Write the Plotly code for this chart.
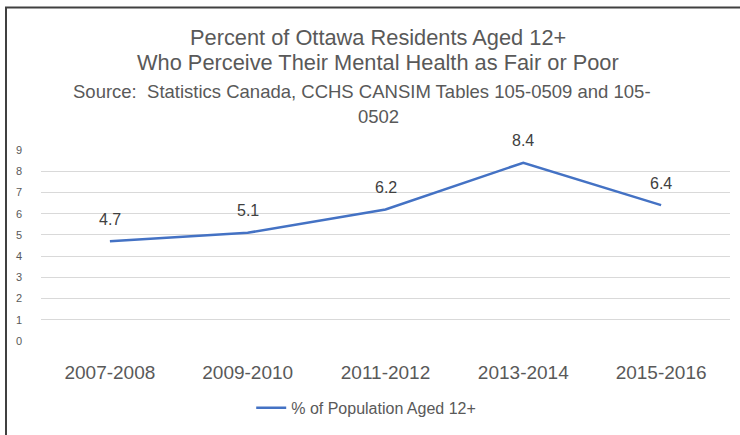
import plotly.graph_objects as go

categories = ["2007-2008", "2009-2010", "2011-2012", "2013-2014", "2015-2016"]
values = [4.7, 5.1, 6.2, 8.4, 6.4]
y_ticks = [0, 1, 2, 3, 4, 5, 6, 7, 8, 9]
series_name = "% of Population Aged 12+"

FONT = "Liberation Sans, Arial, sans-serif"
GRAY = "#595959"

fig = go.Figure()
fig.add_trace(go.Scatter(
    x=categories, y=values, mode="lines",
    line=dict(color="#4472C4", width=2.5),
    name=series_name, showlegend=True, cliponaxis=False,
))

# data labels, positioned via the axes' own scales
for c, v in zip(categories, values):
    fig.add_annotation(x=c, y=v, xref="x", yref="y", text=f"{v:.1f}",
                       showarrow=False, yshift=22, yanchor="middle",
                       font=dict(family=FONT, size=16, color="#404040"))

W, H = 740, 435
L, R, T, B = 41, 10, 150, 92

fig.update_layout(
    width=W, height=H,
    margin=dict(l=L, r=R, t=T, b=B),
    paper_bgcolor="white", plot_bgcolor="white",
    font=dict(family=FONT, color=GRAY),
    xaxis=dict(type="category", showgrid=False, zeroline=False, showline=False,
               ticks="", tickfont=dict(size=19, color=GRAY), range=[-0.5, 4.5],
               ticklabelstandoff=18),
    yaxis=dict(range=[0, 9], tickvals=y_ticks, showgrid=True, gridcolor="#D9D9D9",
               gridwidth=1, zeroline=False, showline=False, ticks="",
               tickfont=dict(size=11, color=GRAY), ticklabelstandoff=18),
    legend=dict(orientation="h", x=0.472, xanchor="center", y=-0.35, yanchor="middle",
                font=dict(size=16, color=GRAY)),
    showlegend=True,
)

plot_h = H - T - B
def ann_px(text, ypx, size, xpx=378):
    fig.add_annotation(text=text,
                       x=(xpx - L) / (W - L - R), xref="paper", xanchor="center",
                       y=(H - B - ypx) / plot_h, yref="paper", yanchor="middle", showarrow=False,
                       font=dict(size=size, color=GRAY, family=FONT))

ann_px("Percent of Ottawa Residents Aged 12+", 36, 21.8)
ann_px("Who Perceive Their Mental Health as Fair or Poor", 62, 21.8)
ann_px("Source:  Statistics Canada, CCHS CANSIM Tables 105-0509 and 105-", 91, 18.5, 362)
ann_px("0502", 116, 18.5)

# outer border
px = lambda x: (x - L) / (W - L - R)
py = lambda y: (H - B - y) / plot_h
fig.add_shape(type="rect", xref="paper", yref="paper",
              x0=px(6), x1=px(760), y0=py(6), y1=py(460),
              line=dict(color="#404040", width=2), fillcolor="rgba(0,0,0,0)")

fig.write_html("out.html", config={"displayModeBar": False},
               post_script="document.body.style.margin='0';")
